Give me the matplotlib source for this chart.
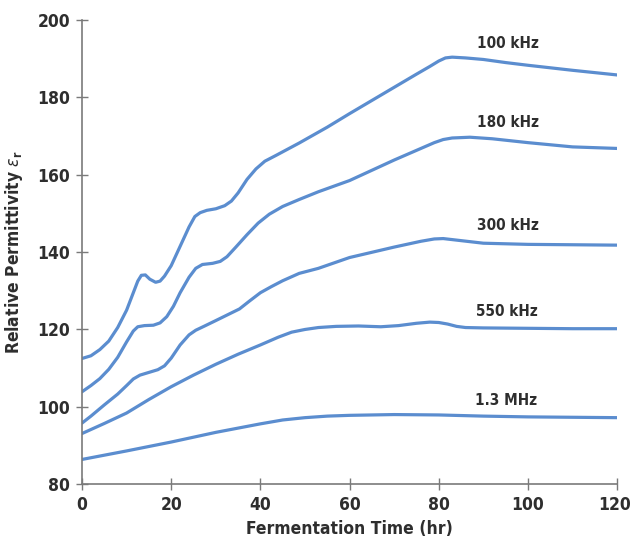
import matplotlib
matplotlib.use("Agg")
import matplotlib.pyplot as plt
import matplotlib.transforms as mtransforms

plt.rcParams['font.family'] = ['DejaVu Sans']
plt.rcParams['font.stretch'] = 'condensed'
plt.rcParams['mathtext.fontset'] = 'dejavusans'

# Fermentation time (hr) and relative permittivity for each measurement frequency
t_100k = [0, 2, 4, 6, 8, 10, 11.5, 12.5, 13.3, 14.2, 15.2, 16.5, 17.5, 18.5, 20, 22, 24, 25.3, 26.5, 28, 30, 32, 33.5, 35, 37, 39, 41, 43.5, 48.7, 55, 60, 65, 70, 75, 78, 80, 81.5, 83, 86, 90, 95, 100, 110, 120]
e_100k = [112.5, 113.2, 114.8, 117.0, 120.5, 125.0, 129.5, 132.5, 134.0, 134.1, 133.0, 132.2, 132.5, 133.8, 136.5, 141.5, 146.5, 149.2, 150.2, 150.8, 151.2, 152.0, 153.2, 155.3, 158.8, 161.5, 163.5, 165.0, 168.2, 172.3, 175.8, 179.2, 182.6, 186.0, 188.0, 189.4, 190.2, 190.4, 190.2, 189.8, 189.0, 188.3, 187.0, 185.8]

t_180k = [0, 2, 4, 6, 8, 10, 11.5, 12.5, 14, 16, 17.5, 19, 20.5, 22, 24, 25.5, 27, 29.3, 31, 32.5, 34.5, 37, 39.5, 42, 45, 48.7, 53, 60, 70, 76, 79, 81, 83, 87, 92, 100, 110, 120]
e_180k = [103.9, 105.5, 107.3, 109.7, 112.8, 116.8, 119.6, 120.7, 121.0, 121.1, 121.7, 123.3, 126.0, 129.5, 133.5, 135.8, 136.8, 137.1, 137.6, 138.8, 141.3, 144.5, 147.5, 149.8, 151.8, 153.6, 155.6, 158.5, 163.8, 166.8, 168.3, 169.1, 169.5, 169.7, 169.3, 168.3, 167.2, 166.8]

t_300k = [0, 2, 5, 8, 10, 11.5, 13, 15, 17, 18.5, 20, 22, 24, 25.5, 27.5, 30, 33, 35.3, 37.5, 40, 42.5, 45, 48.7, 53, 60, 70, 76, 79, 81, 84, 90, 100, 110, 120]
e_300k = [95.8, 97.6, 100.5, 103.3, 105.5, 107.2, 108.2, 108.9, 109.6, 110.6, 112.6, 116.0, 118.6, 119.8, 120.9, 122.3, 124.0, 125.3, 127.3, 129.5, 131.1, 132.6, 134.5, 135.8, 138.6, 141.3, 142.8, 143.4, 143.5, 143.1, 142.3, 142.0, 141.9, 141.8]

t_550k = [0, 5, 10, 15, 20, 25, 30, 35, 40, 44, 47, 50, 53, 57, 62, 67, 71, 75, 78, 80, 82, 84, 86, 90, 100, 110, 120]
e_550k = [93.1, 95.7, 98.4, 101.9, 105.2, 108.2, 111.0, 113.6, 116.0, 118.0, 119.3, 120.0, 120.5, 120.8, 120.9, 120.7, 121.0, 121.6, 121.9, 121.8, 121.4, 120.8, 120.5, 120.4, 120.3, 120.2, 120.2]

t_1m3 = [0, 10, 20, 30, 40, 45, 50, 55, 60, 70, 80, 90, 100, 110, 120]
e_1m3 = [86.4, 88.6, 90.9, 93.4, 95.6, 96.6, 97.2, 97.6, 97.8, 98.0, 97.9, 97.6, 97.4, 97.3, 97.2]

series = [
    ("100 kHz", t_100k, e_100k),
    ("180 kHz", t_180k, e_180k),
    ("300 kHz", t_300k, e_300k),
    ("550 kHz", t_550k, e_550k),
    ("1.3 MHz", t_1m3, e_1m3),
]
label_pos = [(95.6, 193.8), (95.6, 173.4), (95.6, 147.0), (95.2, 124.6), (95.2, 101.7)]

x_ticks = [0, 20, 40, 60, 80, 100, 120]
y_ticks = [80, 100, 120, 140, 160, 180, 200]

line_color = '#5b8dcf'
axis_color = '#7a7a7a'
text_color = '#2e2e2e'

fig = plt.figure(figsize=(6.31, 5.41), dpi=100)
ax = fig.add_axes([0.130, 0.105, 0.848, 0.858])

for (name, t, e), (lx, ly) in zip(series, label_pos):
    ax.plot(t, e, color=line_color, lw=2.3, solid_capstyle='round', solid_joinstyle='round')
    ax.text(lx, ly, name, ha='center', va='center', fontsize=11,
            fontweight='bold', color=text_color)

ax.set_xlim(0, 120)
ax.set_ylim(80, 200)
ax.set_xticks(x_ticks)
ax.set_yticks(y_ticks)
ax.tick_params(direction='inout', length=9, width=1, color=axis_color,
               labelsize=12.5, labelcolor=text_color, pad=4)
for lbl in ax.get_xticklabels() + ax.get_yticklabels():
    lbl.set_fontweight('bold')

# nudge the last x tick label so it stays inside the figure
last = ax.get_xticklabels()[-1]
last.set_transform(last.get_transform() +
                   mtransforms.ScaledTranslation(-3 / 100, 0, fig.dpi_scale_trans))

for side in ('top', 'right'):
    ax.spines[side].set_visible(False)
for side in ('left', 'bottom'):
    ax.spines[side].set_color(axis_color)
    ax.spines[side].set_linewidth(1.2)

ax.set_xlabel('Fermentation Time (hr)', fontsize=12.5, fontweight='bold',
              color=text_color, labelpad=4)
ax.set_ylabel(r'Relative Permittivity $\varepsilon_\mathregular{r}$', fontsize=12.5,
              fontweight='bold', color=text_color, labelpad=9)

fig.savefig('out.png', dpi=100, facecolor='white')
